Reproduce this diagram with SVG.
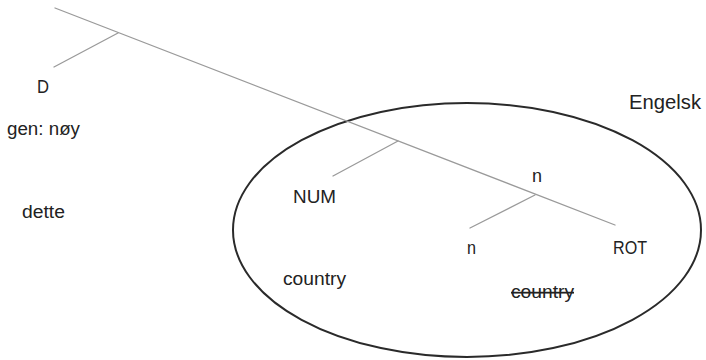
<svg xmlns="http://www.w3.org/2000/svg" width="706" height="360" viewBox="0 0 706 360">
<style>
  .lbl { font-family: "Liberation Sans", Arial, sans-serif; font-size: 18px; fill: #222; }
  .title { font-family: "Liberation Sans", Arial, sans-serif; font-size: 19.5px; fill: #222; }
  .branch { stroke: #9a9a9a; stroke-width: 1.3; fill: none; stroke-linecap: round; }
  .region { stroke: #2a2a2a; stroke-width: 2; fill: none; }
</style>
<rect width="706" height="360" fill="#ffffff"/>
<g id="engelsk-region">
  <ellipse class="region" cx="467" cy="230" rx="234" ry="127"/>
  <text class="title" x="629" y="109" textLength="72" lengthAdjust="spacingAndGlyphs">Engelsk</text>
</g>
<g id="connectors">
  <line class="branch" x1="55" y1="8" x2="615" y2="225"/>
  <line class="branch" x1="118" y1="33" x2="54" y2="67"/>
  <line class="branch" x1="398" y1="141" x2="333" y2="176"/>
  <line class="branch" x1="535" y1="195" x2="470" y2="228"/>
</g>
<g id="node-D">
  <text class="lbl" x="37" y="93" textLength="12" lengthAdjust="spacingAndGlyphs">D</text>
</g>
<g id="node-gen">
  <text class="lbl" x="7" y="135" textLength="73" lengthAdjust="spacingAndGlyphs">gen: nøy</text>
</g>
<g id="node-dette">
  <text class="lbl" x="22" y="218" textLength="43" lengthAdjust="spacingAndGlyphs">dette</text>
</g>
<g id="node-NUM">
  <text class="lbl" x="293" y="203" textLength="43" lengthAdjust="spacingAndGlyphs">NUM</text>
</g>
<g id="node-country">
  <text class="lbl" x="283" y="285" textLength="63" lengthAdjust="spacingAndGlyphs">country</text>
</g>
<g id="node-n-top">
  <text class="lbl" x="532" y="182" textLength="10" lengthAdjust="spacingAndGlyphs">n</text>
</g>
<g id="node-n">
  <text class="lbl" x="467" y="254" textLength="9" lengthAdjust="spacingAndGlyphs">n</text>
</g>
<g id="node-ROT">
  <text class="lbl" x="613" y="254" textLength="34" lengthAdjust="spacingAndGlyphs">ROT</text>
</g>
<g id="node-country-struck">
  <text class="lbl" x="511" y="298" textLength="63" lengthAdjust="spacingAndGlyphs" text-decoration="line-through">country</text>
</g>
</svg>
